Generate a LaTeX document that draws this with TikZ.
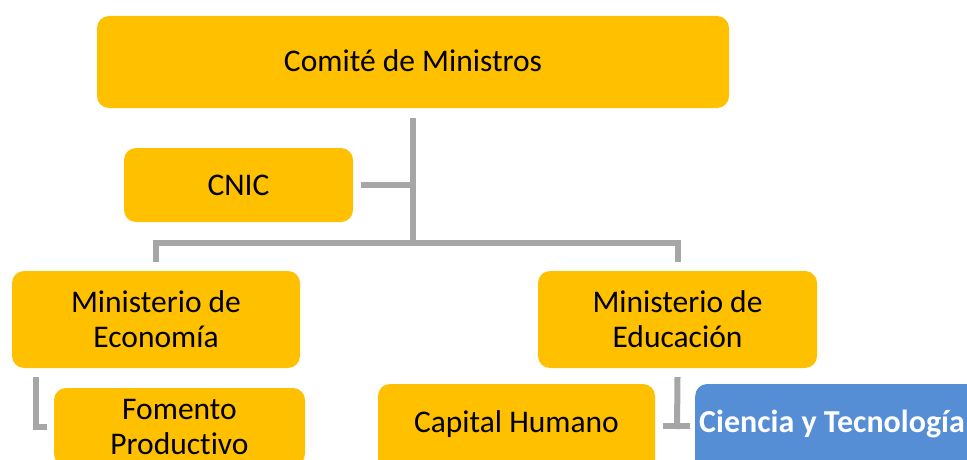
\documentclass[tikz,border=0pt]{standalone}
\usepackage{fontspec}
\setmainfont{Carlito}[Ligatures=NoCommon]
\usetikzlibrary{calc}
\definecolor{boxorange}{HTML}{FFC000}
\definecolor{boxblue}{HTML}{558ED5}
\definecolor{linkgray}{HTML}{A6A6A6}
\begin{document}
\begin{tikzpicture}[x=1pt,y=-1pt,
  box/.style={fill=boxorange, rounded corners=12pt, inner sep=0pt,
    font=\fontsize{31.5}{35}\selectfont},
  oneline/.style={box, text height=20pt, text depth=0pt},
  twoline/.style={box, align=center},
  lowline/.style={box, text height=18pt, text depth=22pt},
  link/.style={draw=linkgray, line width=6pt}]
\useasboundingbox (0,0) rectangle (967,460);
\clip (0,0) rectangle (967,460);
% boxes
\node[oneline, minimum width=632pt, minimum height=92pt] (top) at (413,62) {Comité de Ministros};
\node[oneline, minimum width=229pt, minimum height=74pt] (cnic) at (238.5,185) {CNIC};
\node[twoline, minimum width=288pt, minimum height=97pt] (eco) at (156,319.5) {Ministerio de\\Economía};
\node[twoline, minimum width=279pt, minimum height=97pt] (edu) at (677.5,319.5) {Ministerio de\\Educación};
\node[twoline, minimum width=251pt, minimum height=78pt] (fom) at (179.5,427) {Fomento\\Productivo};
\node[lowline, minimum width=277pt, minimum height=100pt] (cap) at (516.5,434) {Capital Humano};
\node[lowline, fill=boxblue, text=white, anchor=west, inner xsep=4pt, minimum height=100pt,
  font=\fontsize{32}{35}\selectfont\bfseries] (cyt) at (695,434) {\makebox[295pt][l]{Ciencia y Tecnología}};
% connectors
\coordinate (bus) at (413,243);
\coordinate (tj) at (677,426);
\draw[link] ($(top.south)+(0,10)$) -- (bus);
\draw[link] ($(cnic.east)+(8,0)$) -- (cnic.east -| bus);
\draw[link] ($(eco.north)+(0,-9)$) |- (bus) -| ($(edu.north)+(0,-9)$);
\draw[link] ($(eco.south west)+(24,9)$) |- ($(fom.west)+(-7,0)$);
\draw[link] ($(edu.south)+(0,9)$) -- ($(tj)+(0,3)$);
\draw[link] ($(cap.east |- tj)+(8,0)$) -- ($(cyt.west |- tj)+(-5,0)$);
\end{tikzpicture}
\end{document}
